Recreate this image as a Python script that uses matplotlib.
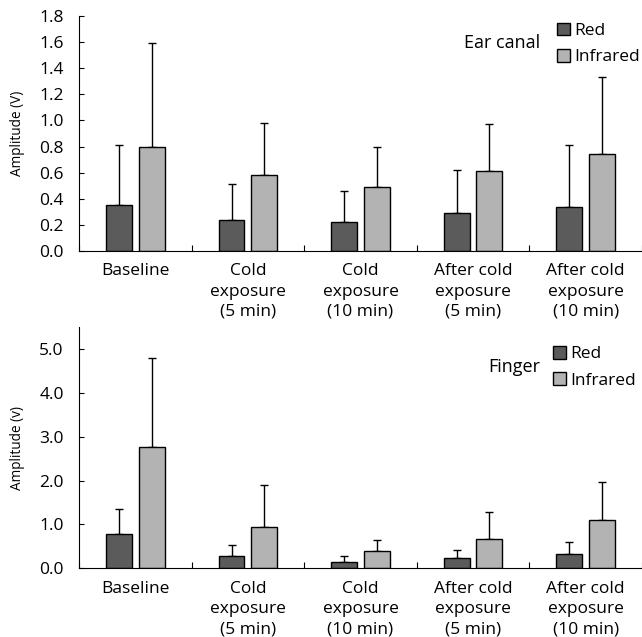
import numpy as np
import matplotlib
matplotlib.use("Agg")
import matplotlib.pyplot as plt
from matplotlib.patches import Patch

plt.rcParams['font.family'] = ['Open Sans', 'DejaVu Sans']

# Data
categories = ["Baseline", "Cold\nexposure\n(5 min)", "Cold\nexposure\n(10 min)",
              "After cold\nexposure\n(5 min)", "After cold\nexposure\n(10 min)"]

ear_red = [0.35, 0.24, 0.22, 0.29, 0.34]
ear_red_err = [0.46, 0.27, 0.24, 0.33, 0.47]
ear_ir = [0.80, 0.58, 0.49, 0.61, 0.74]
ear_ir_err = [0.79, 0.40, 0.31, 0.36, 0.59]

fin_red = [0.78, 0.27, 0.14, 0.23, 0.33]
fin_red_err = [0.57, 0.26, 0.13, 0.19, 0.26]
fin_ir = [2.77, 0.94, 0.40, 0.67, 1.09]
fin_ir_err = [2.03, 0.96, 0.24, 0.62, 0.89]

red_color = "#5b5b5b"
ir_color = "#b3b3b3"

fig = plt.figure(figsize=(6.42, 6.37), dpi=100)
ax1 = fig.add_axes([0.123, 0.606, 0.877, 0.369])
ax2 = fig.add_axes([0.123, 0.108, 0.877, 0.378])


def draw(ax, red, red_err, ir, ir_err, ylim, yticks, ylabel, site,
         leg_x, leg_y, site_x, site_y):
    x = np.arange(len(categories))
    w = 0.23
    off = 0.145
    ax.bar(x - off, red, w, color=red_color, edgecolor="black", linewidth=1.0, zorder=2)
    ax.bar(x + off, ir, w, color=ir_color, edgecolor="black", linewidth=1.0, zorder=2)
    ax.errorbar(x - off, red, yerr=[np.zeros(len(red)), red_err], fmt="none",
                ecolor="black", elinewidth=1.0, capsize=3, capthick=1.0, zorder=1)
    ax.errorbar(x + off, ir, yerr=[np.zeros(len(ir)), ir_err], fmt="none",
                ecolor="black", elinewidth=1.0, capsize=3, capthick=1.0, zorder=1)
    ax.set_xlim(-0.5, 4.5)
    ax.set_ylim(*ylim)
    ax.set_yticks(yticks)
    ax.set_yticklabels([f"{t:.1f}" for t in yticks], fontsize=12.5)
    ax.set_ylabel(ylabel, fontsize=9.8, labelpad=10)
    ax.set_xticks(np.arange(-0.5, 4.6, 1.0))
    ax.set_xticklabels([])
    ax.set_xticks(x, minor=True)
    ax.set_xticklabels(categories, minor=True, fontsize=12.5, linespacing=1.35)
    ax.tick_params(axis="x", which="major", direction="in", length=4)
    ax.tick_params(axis="x", which="minor", length=0, pad=9)
    ax.tick_params(axis="y", direction="in", length=3.5, pad=11)
    for s in ["top", "right"]:
        ax.spines[s].set_visible(False)
    handles = [Patch(facecolor=red_color, edgecolor="black", label="Red"),
               Patch(facecolor=ir_color, edgecolor="black", label="Infrared")]
    ax.legend(handles=handles, loc="upper left", bbox_to_anchor=(leg_x, leg_y),
              frameon=False, fontsize=12.5, handlelength=0.75, handleheight=0.75,
              handletextpad=0.25, labelspacing=0.58, borderpad=0, borderaxespad=0)
    ax.text(site_x, site_y, site, transform=ax.transAxes, ha="right", va="center",
            fontsize=13)


draw(ax1, ear_red, ear_red_err, ear_ir, ear_ir_err, (0, 1.8),
     np.arange(0, 1.81, 0.2), "Amplitude (V)", "Ear canal", 0.849, 0.972, 0.819, 0.885)
draw(ax2, fin_red, fin_red_err, fin_ir, fin_ir_err, (0, 5.5),
     np.arange(0, 5.1, 1.0), "Amplitude (v)", "Finger", 0.842, 0.923, 0.820, 0.835)

fig.savefig("out.png", dpi=100)
